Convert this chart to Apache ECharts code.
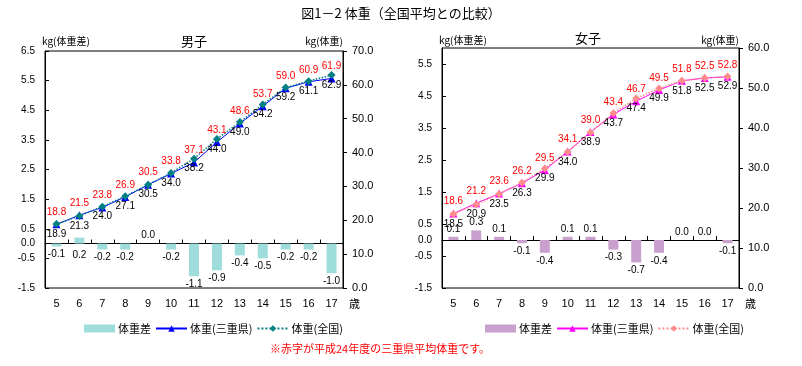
<!DOCTYPE html>
<html><head><meta charset="utf-8">
<script src="https://cdn.jsdelivr.net/npm/echarts@6/dist/echarts.min.js"></script>
<style>html,body{margin:0;padding:0;background:#fff}#c{width:802px;height:366px}</style>
</head><body><div id="c"></div>
<script>
const ages = ['5','6','7','8','9','10','11','12','13','14','15','16','17'];
const boysMie  = [18.8, 21.5, 23.8, 26.9, 30.5, 33.8, 37.1, 43.1, 48.6, 53.7, 59.0, 60.9, 61.9];
const boysNat  = [18.9, 21.3, 24.0, 27.1, 30.5, 34.0, 38.2, 44.0, 49.0, 54.2, 59.2, 61.1, 62.9];
const boysDiff = [-0.1, 0.2, -0.2, -0.2, 0.0, -0.2, -1.1, -0.9, -0.4, -0.5, -0.2, -0.2, -1.0];
const girlsMie  = [18.6, 21.2, 23.6, 26.2, 29.5, 34.1, 39.0, 43.4, 46.7, 49.5, 51.8, 52.5, 52.8];
const girlsNat  = [18.5, 20.9, 23.5, 26.3, 29.9, 34.0, 38.9, 43.7, 47.4, 49.9, 51.8, 52.5, 52.9];
const girlsDiff = [0.1, 0.3, 0.1, -0.1, -0.4, 0.1, 0.1, -0.3, -0.7, -0.4, 0.0, 0.0, -0.1];
const seriesNames = ['体重差', '体重(三重県)', '体重(全国)'];
const titleText = '図1－2 体重（全国平均との比較）';
const noteText = '※赤字が平成24年度の三重県平均体重です。';

const NUM = '"Liberation Sans","Noto Sans CJK JP",sans-serif';
const JP = '"Noto Sans CJK JP",sans-serif';
const fix1 = v => Number(v).toFixed(1);

function panel(gi, xi, yi, prefix, diffMax, wMax, c) {
  const grid = c.grid;
  const xAxes = [
    { gridIndex: gi, type: 'category', data: ages, position: 'bottom',
      axisLine: { onZero: true, onZeroAxisIndex: yi, lineStyle: { color: '#000', width: 1 } },
      axisTick: { show: true, inside: true, length: 4, lineStyle: { color: '#000' } },
      axisLabel: { show: false }, splitLine: { show: false } },
    { gridIndex: gi, type: 'category', data: ages, position: 'bottom',
      axisLine: { show: false }, axisTick: { show: false },
      axisLabel: { margin: 10, color: '#000', fontSize: 11, fontFamily: NUM },
      name: '歳', nameLocation: 'end', nameGap: 6,
      nameTextStyle: { color: '#000', fontSize: 11, fontFamily: JP, verticalAlign: 'top', padding: [10, 0, 0, 0] } }
  ];
  const yAxes = [
    { gridIndex: gi, type: 'value', position: 'left', min: -1.5, max: diffMax, interval: 1,
      axisLine: { show: true, lineStyle: { color: '#000' } },
      axisTick: { show: true, inside: true, length: 4, lineStyle: { color: '#000' } },
      axisLabel: { formatter: fix1, margin: 10, color: '#000', fontSize: 10, fontFamily: NUM, showMaxLabel: diffMax === 6.5 },
      splitLine: { show: false },
      name: 'kg(体重差)', nameLocation: 'end', nameGap: c.nameGap,
      nameTextStyle: { color: '#000', fontSize: 10, fontFamily: JP, align: 'left', padding: [0, 0, 0, -3] } },
    { gridIndex: gi, type: 'value', position: 'right', min: 0, max: wMax, interval: 10,
      axisLine: { show: true, lineStyle: { color: '#000' } },
      axisTick: { show: true, length: 4, lineStyle: { color: '#000' } },
      axisLabel: { formatter: fix1, margin: 9, color: '#000', fontSize: 11, fontFamily: NUM },
      splitLine: { show: false },
      name: 'kg(体重)', nameLocation: 'end', nameGap: c.nameGap,
      nameTextStyle: { color: '#000', fontSize: 10, fontFamily: JP, align: 'right', padding: [0, 0, 0, 0] } }
  ];
  const diffData = c.diff.map((v, i) => ({ value: v,
    label: { position: (v < 0 || c.labelBelow.includes(i)) ? 'bottom' : 'top',
             distance: c.labelBelow.includes(i) ? 7 : 3 } }));
  const series = [
    { type: 'bar', name: prefix + seriesNames[0], xAxisIndex: xi, yAxisIndex: yi, data: diffData,
      barWidth: 10, itemStyle: { color: c.barColor },
      label: { show: true, formatter: p => fix1(p.value), color: '#000', fontSize: 10, fontFamily: NUM },
      markLine: { silent: true, symbol: 'none', lineStyle: { color: 'rgba(0,0,0,0)', width: 1 },
        label: { show: true, position: 'start', formatter: '0.0', color: '#000', fontSize: 10, fontFamily: NUM, distance: 10 },
        data: [{ yAxis: 0 }] } },
    { type: 'line', name: prefix + seriesNames[1], xAxisIndex: xi, yAxisIndex: yi + 1, data: c.mie,
      symbol: 'triangle', symbolSize: 8, itemStyle: { color: c.mieColor },
      lineStyle: { color: c.mieColor, width: 1 },
      label: { show: true, position: 'top', distance: 3, formatter: p => fix1(p.value), color: '#ff0000', fontSize: 10, fontFamily: NUM } },
    { type: 'line', name: prefix + seriesNames[2], xAxisIndex: xi, yAxisIndex: yi + 1, data: c.nat,
      symbol: 'diamond', symbolSize: 8, itemStyle: { color: c.natColor },
      lineStyle: { color: c.natColor, width: 1.5, type: 'dotted' },
      label: { show: true, position: 'bottom', distance: 1, formatter: p => fix1(p.value), color: '#000', fontSize: 10, fontFamily: NUM } }
  ];
  const legend = { left: c.legendLeft, top: 318, itemWidth: 31, itemHeight: 8, itemGap: 4,
    textStyle: { color: '#000', fontSize: 11, fontFamily: JP, padding: [0, 0, 0, -2] },
    formatter: n => n.replace(/^g_/, ''),
    data: [{ name: prefix + seriesNames[0], icon: 'rect' }, prefix + seriesNames[1], prefix + seriesNames[2]] };
  return { grid, xAxes, yAxes, series, legend };
}

const boys = panel(0, 0, 0, '', 6.5, 70, {
  grid: { left: 45, top: 51, width: 298, height: 237, show: true, borderColor: '#000', borderWidth: 1 },
  nameGap: 5, diff: boysDiff, mie: boysMie, nat: boysNat, labelBelow: [1],
  barColor: '#9fdcdc', mieColor: '#0000ff', natColor: '#008080', legendLeft: 79 });
const girls = panel(1, 2, 2, 'g_', 6.0, 60, {
  grid: { left: 442, top: 48, width: 297, height: 240, show: true, borderColor: '#000', borderWidth: 1 },
  nameGap: 3, diff: girlsDiff, mie: girlsMie, nat: girlsNat, labelBelow: [],
  barColor: '#c9a0cd', mieColor: '#ff00ff', natColor: '#ff8c8c', legendLeft: 480 });

const option = {
  animation: false,
  backgroundColor: '#fff',
  grid: [boys.grid, girls.grid],
  xAxis: [...boys.xAxes, ...girls.xAxes],
  yAxis: [...boys.yAxes, ...girls.yAxes],
  series: [...boys.series, ...girls.series],
  legend: [boys.legend, girls.legend],
  graphic: [
    { type: 'text', x: 401, y: 7, style: { text: titleText, fill: '#000', font: '13px ' + JP, textAlign: 'center' } },
    { type: 'text', x: 194, y: 35, style: { text: '男子', fill: '#000', font: '13px ' + JP, textAlign: 'center' } },
    { type: 'text', x: 588, y: 32, style: { text: '女子', fill: '#000', font: '13px ' + JP, textAlign: 'center' } },
    { type: 'text', x: 380, y: 343, style: { text: noteText, fill: '#ff0000', font: '11px ' + JP, textAlign: 'center' } }
  ]
};
const chart = echarts.init(document.getElementById('c'), null, { renderer: 'canvas' });
chart.setOption(option);
</script></body></html>
